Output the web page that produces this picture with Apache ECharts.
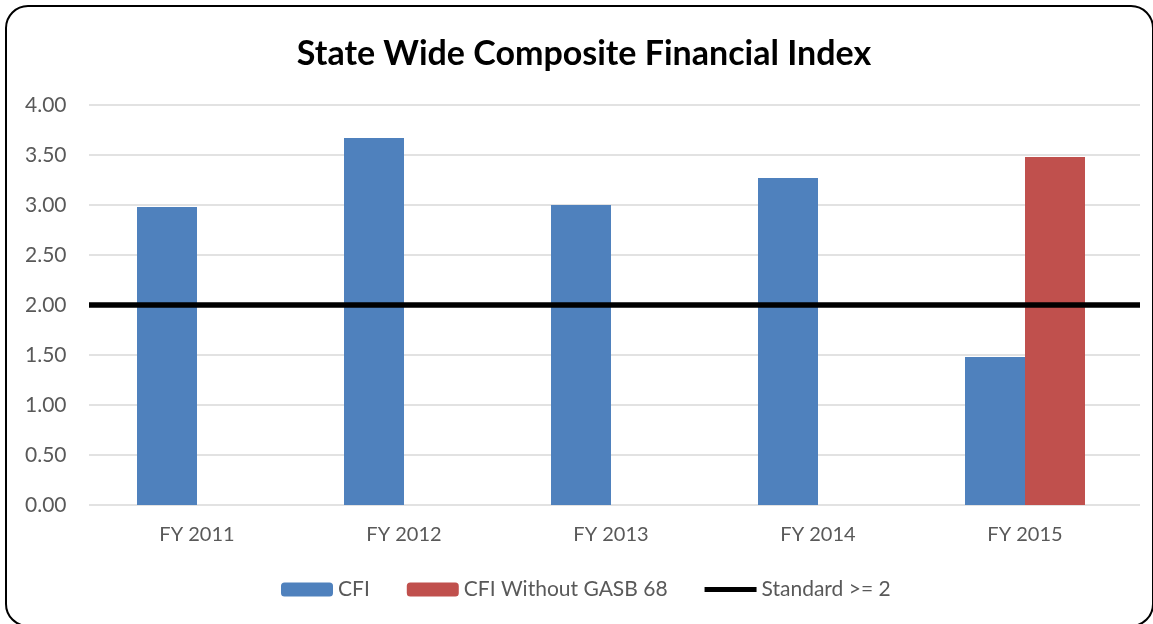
<!DOCTYPE html>
<html>
<head>
<meta charset="utf-8">
<script src="https://cdn.jsdelivr.net/npm/echarts@6/dist/echarts.min.js"></script>
<style>
  html, body { margin: 0; padding: 0; background: #fff; }
  #chart { width: 1153px; height: 624px; }
</style>
</head>
<body>
<div id="chart"></div>
<script>
var categories = ["FY 2011", "FY 2012", "FY 2013", "FY 2014", "FY 2015"];
var cfi = [2.98, 3.67, 3.00, 3.27, 1.48];
var cfiNoGasb = [null, null, null, null, 3.48];
var standard = [2, 2, 2, 2, 2];
var yTicks = { min: 0, max: 4, interval: 0.5 };

var chartDom = document.getElementById("chart");
var myChart = echarts.init(chartDom);
var font = "Lato, 'Open Sans', sans-serif";
var option;

option = {
  textStyle: { fontFamily: font },
  title: {
    text: "State Wide Composite Financial Index",
    left: 579,
    textAlign: "center",
    top: 32,
    textStyle: { fontFamily: font, fontSize: 34, fontWeight: "bold", color: "#000" },
  },
  graphic: [
    {
      type: "rect",
      shape: { x: 6, y: 6, width: 1147, height: 620, r: 22 },
      style: { fill: "none", stroke: "#000", lineWidth: 2 },
      z: -10,
    },
  ],
  legend: {
    left: 281,
    top: 579,
    padding: 0,
    itemWidth: 52,
    itemHeight: 14,
    itemGap: 37,
    textStyle: { fontFamily: font, fontSize: 21, color: "#595959" },
    data: [
      { name: "CFI" },
      { name: "CFI Without GASB 68" },
      { name: "Standard >= 2", icon: "path://M0,0H52V5H0Z" },
    ],
  },
  grid: [
    { left: 93.5, right: 24.5, top: 105, bottom: 119 },
    { left: 89, right: 13, top: 105, bottom: 119 },
  ],
  xAxis: [
    {
      type: "category",
      gridIndex: 0,
      data: categories,
      axisLine: { show: false },
      axisTick: { show: false },
      axisLabel: { fontFamily: font, fontSize: 20, color: "#595959", margin: 20 },
    },
    {
      type: "category",
      gridIndex: 1,
      data: categories,
      boundaryGap: false,
      show: false,
    },
  ],
  yAxis: [
    {
      type: "value",
      gridIndex: 0,
      min: yTicks.min,
      max: yTicks.max,
      interval: yTicks.interval,
      splitLine: { show: false },
      axisLabel: {
        fontFamily: font,
        fontSize: 21,
        color: "#595959",
        margin: 27,
        formatter: function (v) { return v.toFixed(2); },
      },
    },
    {
      type: "value",
      gridIndex: 1,
      min: yTicks.min,
      max: yTicks.max,
      interval: yTicks.interval,
      axisLabel: { show: false },
      splitLine: { lineStyle: { color: "#d9d9d9", width: 1.5 } },
    },
  ],
  series: [
    {
      name: "CFI",
      type: "bar",
      xAxisIndex: 0,
      yAxisIndex: 0,
      barWidth: 60,
      barGap: "0%",
      itemStyle: { color: "#4F81BD" },
      data: cfi,
    },
    {
      name: "CFI Without GASB 68",
      type: "bar",
      xAxisIndex: 0,
      yAxisIndex: 0,
      barWidth: 60,
      barGap: "0%",
      itemStyle: { color: "#C0504D" },
      data: cfiNoGasb,
    },
    {
      name: "Standard >= 2",
      type: "line",
      xAxisIndex: 1,
      yAxisIndex: 1,
      symbol: "none",
      z: 5,
      itemStyle: { color: "#000" },
      lineStyle: { color: "#000", width: 5.5 },
      data: standard,
    },
  ],
};

option && myChart.setOption(option);
</script>
</body>
</html>
